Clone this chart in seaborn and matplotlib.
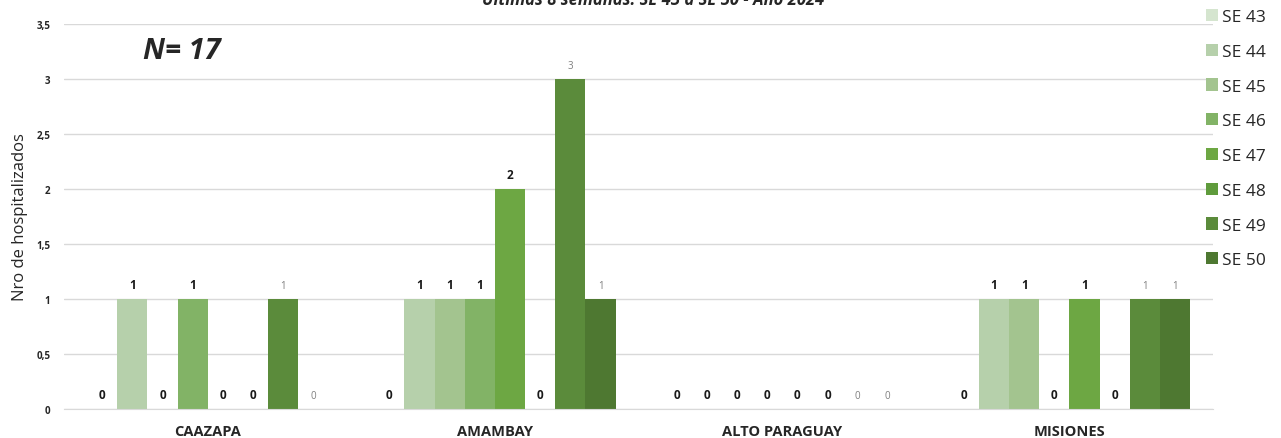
import matplotlib
matplotlib.use('Agg')
import matplotlib.pyplot as plt
import seaborn as sns
import pandas as pd
from matplotlib.ticker import FuncFormatter


# Data
departamentos = ['CAAZAPA', 'AMAMBAY', 'ALTO PARAGUAY', 'MISIONES']
semanas = ['SE 43', 'SE 44', 'SE 45', 'SE 46', 'SE 47', 'SE 48', 'SE 49', 'SE 50']

caazapa = [0, 1, 0, 1, 0, 0, 1, 0]
amambay = [0, 1, 1, 1, 2, 0, 3, 1]
alto_paraguay = [0, 0, 0, 0, 0, 0, 0, 0]
misiones = [0, 1, 1, 0, 1, 0, 1, 1]

colores = ['#d5e5cf', '#b6d0ab', '#a3c48f', '#82b366',
           '#6da743', '#5f9b3c', '#5b8b3b', '#4e7831']

# Long-form table
rows = []
for dep, vals in zip(departamentos, [caazapa, amambay, alto_paraguay, misiones]):
    for se, v in zip(semanas, vals):
        rows.append({'dep': dep, 'semana': se, 'valor': v})
df = pd.DataFrame(rows)

sns.set_style('white')
plt.rcParams['font.family'] = ['Open Sans', 'DejaVu Sans']

fig = plt.figure(figsize=(12.81, 4.39), dpi=100)
ax = fig.add_axes([0.05, 0.066, 0.897, 0.877])

sns.barplot(
    data=df,
    x='dep',
    y='valor',
    hue='semana',
    order=departamentos,
    hue_order=semanas,
    palette=colores,
    width=0.84,
    saturation=1,
    linewidth=0,
    ax=ax
)

# Value labels
for i, cont in enumerate(ax.containers):
    if i < 6:
        ax.bar_label(cont, fmt='%d', padding=6, fontsize=8.5,
                     fontweight='bold', color='#1a1a1a')
    else:
        ax.bar_label(cont, fmt='%d', padding=6, fontsize=7,
                     color='#7f7f7f')

ax.set_ylim(0, 3.5)
ax.set_xlim(-0.5, 3.5)
ax.set_yticks([0, 0.5, 1, 1.5, 2, 2.5, 3, 3.5])
ax.yaxis.set_major_formatter(
    FuncFormatter(lambda v, p: ('%g' % v).replace('.', ','))
)
ax.grid(axis='y', color='#d9d9d9', linewidth=1)
ax.set_axisbelow(True)
for s in ['top', 'right', 'left']:
    ax.spines[s].set_visible(False)
ax.spines['bottom'].set_color('#d9d9d9')

ax.tick_params(axis='y', length=0, labelsize=7, pad=10)
ax.tick_params(axis='x', length=0, labelsize=10.5, pad=11)
for t in ax.get_yticklabels():
    t.set_fontweight('bold')
for t in ax.get_xticklabels():
    t.set_fontweight('bold')

ax.set_xlabel('')
ax.set_ylabel('Nro de hospitalizados', fontsize=12, labelpad=6)

ax.text(0.069, 0.93, 'N= 17', transform=ax.transAxes, fontsize=21,
        fontweight='bold', fontstyle='italic', ha='left', va='center')

fig.text(0.51, 1 - 5 / 439, 'Últimas 8 semanas: SE 43 a SE 50 - Año 2024',
         fontsize=12, fontweight='bold', fontstyle='italic',
         ha='center', va='baseline')

handles, labels = ax.get_legend_handles_labels()
ax.legend(
    handles, labels,
    loc='upper left',
    bbox_to_anchor=(1206 / 1281, 1 - 10 / 439),
    bbox_transform=fig.transFigure,
    frameon=False,
    fontsize=12.5,
    handlelength=0.7,
    handleheight=0.7,
    handletextpad=0.25,
    labelspacing=1.07,
    borderpad=0,
    borderaxespad=0
)

plt.savefig('out.png', dpi=100)
